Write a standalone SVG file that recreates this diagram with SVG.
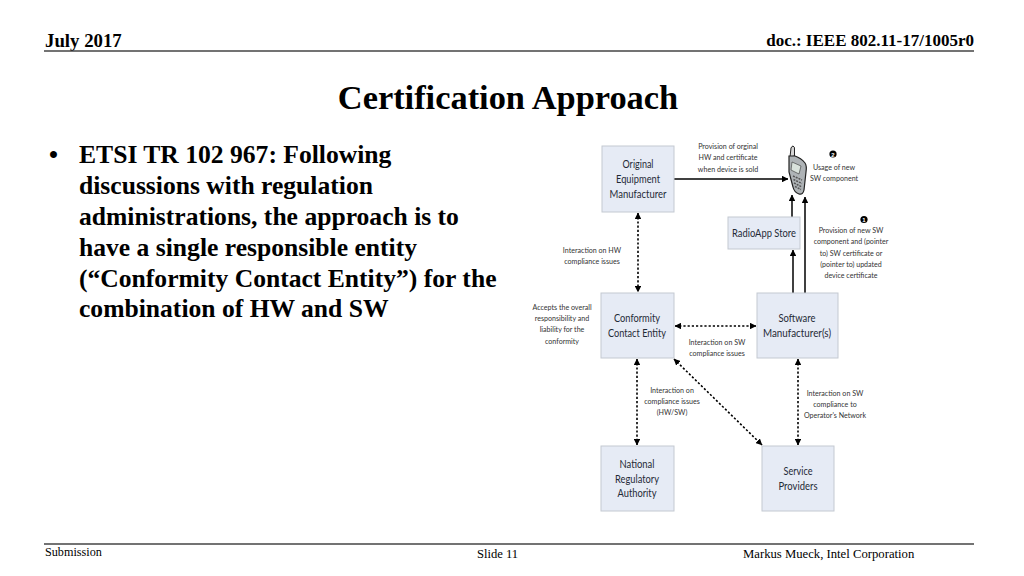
<svg xmlns="http://www.w3.org/2000/svg" width="1024" height="576" viewBox="0 0 1024 576">
<style>
.s{font-family:"Liberation Serif","Times New Roman",serif;fill:#000}
.b{font-weight:bold}
.bul{font-size:25.6px;font-weight:bold}
.n{font-family:Lato,"Open Sans",sans-serif;font-size:11px;fill:#1f2a36;text-anchor:middle}
.l{font-family:Lato,"Open Sans",sans-serif;font-size:7.1px;fill:#333;text-anchor:middle}
.box{fill:#e6ebf5;stroke:#c4c9d1;stroke-width:1}
.solid{fill:none;stroke:#000;stroke-width:1.5}
.dash{fill:none;stroke:#000;stroke-width:1.6;stroke-dasharray:2.2 2}
.m{fill:#000}
.rule{stroke:#444;stroke-width:1.3}
</style>
<defs>
<marker id="a" viewBox="0 0 8 8" refX="7.5" refY="4" markerWidth="6.500" markerHeight="6.500" markerUnits="userSpaceOnUse" orient="auto-start-reverse"><path class="m" d="M0 0L8 4L0 8Z"/></marker>
</defs>
<rect width="1024" height="576" fill="#fff"/>
<g id="header">
<text class="s b" x="45" y="46.500" font-size="18.800">July 2017</text>
<text class="s b" x="974" y="46" font-size="17" text-anchor="end">doc.: IEEE 802.11-17/1005r0</text>
<line class="rule" x1="44" y1="51" x2="974" y2="51"/>
<text class="s b" x="508" y="109" font-size="34.400" text-anchor="middle">Certification Approach</text>
</g>
<g id="body">
<text class="s bul" x="49" y="163">•</text>
<text class="s bul" x="79" y="163">ETSI TR 102 967: Following</text>
<text class="s bul" x="79" y="194">discussions with regulation</text>
<text class="s bul" x="79" y="225">administrations, the approach is to</text>
<text class="s bul" x="79" y="256">have a single responsible entity</text>
<text class="s bul" x="79" y="287">(“Conformity Contact Entity”) for the</text>
<text class="s bul" x="79" y="317">combination of HW and SW</text>
</g>
<g id="connectors">
<path class="solid" d="M674 179H788" marker-end="url(#a)"/>
<path class="solid" d="M792 217V195" marker-end="url(#a)"/>
<path class="solid" d="M793 293V250" marker-end="url(#a)"/>
<path class="solid" d="M805 293V197" marker-end="url(#a)"/>
<path class="dash" d="M638 213V292" marker-start="url(#a)" marker-end="url(#a)"/>
<path class="dash" d="M675 326H756" marker-start="url(#a)" marker-end="url(#a)"/>
<path class="dash" d="M637 359V445" marker-start="url(#a)" marker-end="url(#a)"/>
<path class="dash" d="M674 359L762 445" marker-start="url(#a)" marker-end="url(#a)"/>
<path class="dash" d="M798 359V445" marker-start="url(#a)" marker-end="url(#a)"/>
</g>
<g id="oem"><rect class="box" x="602" y="146" width="72" height="66"/>
<text class="n" x="638" y="168" textLength="31" lengthAdjust="spacingAndGlyphs">Original</text><text class="n" x="638" y="183" textLength="44" lengthAdjust="spacingAndGlyphs">Equipment</text><text class="n" x="638" y="198" textLength="57" lengthAdjust="spacingAndGlyphs">Manufacturer</text></g>
<g id="radioapp"><rect class="box" x="728" y="217" width="72" height="32"/>
<text class="n" x="764" y="237" textLength="64" lengthAdjust="spacingAndGlyphs">RadioApp Store</text></g>
<g id="cce"><rect class="box" x="601" y="293" width="73" height="65"/>
<text class="n" x="637" y="322" textLength="46" lengthAdjust="spacingAndGlyphs">Conformity</text><text class="n" x="637" y="337" textLength="58" lengthAdjust="spacingAndGlyphs">Contact Entity</text></g>
<g id="sw"><rect class="box" x="757" y="293" width="81" height="65"/>
<text class="n" x="797" y="322" textLength="37" lengthAdjust="spacingAndGlyphs">Software</text><text class="n" x="797" y="337" textLength="68" lengthAdjust="spacingAndGlyphs">Manufacturer(s)</text></g>
<g id="nra"><rect class="box" x="601" y="446" width="73" height="65"/>
<text class="n" x="637" y="468" textLength="35" lengthAdjust="spacingAndGlyphs">National</text><text class="n" x="637" y="483" textLength="44" lengthAdjust="spacingAndGlyphs">Regulatory</text><text class="n" x="637" y="497" textLength="39" lengthAdjust="spacingAndGlyphs">Authority</text></g>
<g id="sp"><rect class="box" x="762" y="446" width="72" height="65"/>
<text class="n" x="798" y="475" textLength="29" lengthAdjust="spacingAndGlyphs">Service</text><text class="n" x="798" y="490" textLength="39" lengthAdjust="spacingAndGlyphs">Providers</text></g>
<g id="phone">
<path d="M790 157L791 148Q792 146 793 146Q795 147 794.500 149L794.500 156Z" fill="#d5d5d5" stroke="#222" stroke-width="1"/>
<path d="M789 156L795 156Q801 158 805 163Q807 166 806 172L804 190Q803 195 799 194Q794 192 793 187L789 172Z" fill="#aeb3b6" stroke="#222" stroke-width="1.200"/>
<path d="M792 162L801 166L799 174L791 170Z" fill="#d9e2dc" stroke="#333" stroke-width=".6"/>
<path d="M793 176l9 4M793.500 179.500l8.500 4M794 183l8 4M795 186.500l6 3" stroke="#555" stroke-width="1.500" stroke-dasharray="2 1" fill="none"/>
</g>
<g id="labels">
<text class="l" x="728" y="149">Provision of orginal</text><text class="l" x="728" y="160">HW and certificate</text><text class="l" x="728" y="172">when device is sold</text>
<text class="l" x="834" y="170">Usage of new</text><text class="l" x="834" y="181">SW component</text>
<circle cx="833" cy="154" r="3.600" fill="#000"/><text x="833" y="156.500" font-family="Liberation Sans,sans-serif" font-size="6" font-weight="bold" fill="#fff" text-anchor="middle">2</text>
<circle cx="864" cy="219.500" r="3.600" fill="#000"/><text x="864" y="222" font-family="Liberation Sans,sans-serif" font-size="6" font-weight="bold" fill="#fff" text-anchor="middle">1</text>
<text class="l" x="851" y="233">Provision of new SW</text><text class="l" x="851" y="244">component and (pointer</text><text class="l" x="851" y="256">to) SW certificate or</text><text class="l" x="851" y="267">(pointer to) updated</text><text class="l" x="851" y="278">device certificate</text>
<text class="l" x="592" y="253">Interaction on HW</text><text class="l" x="592" y="264">compliance issues</text>
<text class="l" x="562" y="310">Accepts the overall</text><text class="l" x="562" y="321">responsibility and</text><text class="l" x="562" y="332">liability for the</text><text class="l" x="562" y="344">conformity</text>
<text class="l" x="717" y="345">Interaction on SW</text><text class="l" x="717" y="356">compliance issues</text>
<text class="l" x="672" y="393">Interaction on</text><text class="l" x="672" y="404">compliance issues</text><text class="l" x="672" y="415">(HW/SW)</text>
<text class="l" x="835" y="396">Interaction on SW</text><text class="l" x="835" y="407">compliance to</text><text class="l" x="835" y="418">Operator's Network</text>
</g>
<g id="footer">
<line class="rule" x1="44" y1="544" x2="974" y2="544"/>
<text class="s" x="45" y="556" font-size="12.200">Submission</text>
<text class="s" x="477" y="558" font-size="12.600">Slide 11</text>
<text class="s" x="743" y="558" font-size="12.700">Markus Mueck, Intel Corporation</text>
</g>
</svg>
